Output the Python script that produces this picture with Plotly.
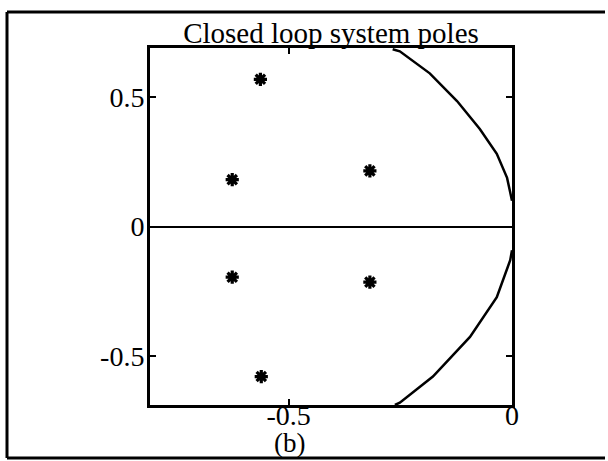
import plotly.graph_objects as go

# Closed-loop pole locations (real, imaginary)
pole_re = [-0.563, -0.626, -0.318, -0.626, -0.318, -0.561]
pole_im = [0.569, 0.181, 0.215, -0.196, -0.215, -0.580]

# Boundary curve, upper branch
upper_re = [-0.267, -0.251, -0.184, -0.123, -0.072, -0.034, -0.011, 0.0]
upper_im = [0.685, 0.677, 0.592, 0.485, 0.377, 0.281, 0.188, 0.100]

# Boundary curve, lower branch
lower_re = [0.0, -0.004, -0.034, -0.065, -0.094, -0.177, -0.251, -0.262]
lower_im = [-0.092, -0.130, -0.273, -0.350, -0.427, -0.580, -0.681, -0.690]

x_ticks = [-0.5, 0]
x_labels = ["-0.5", "0"]
y_ticks = [-0.5, 0, 0.5]
y_labels = ["-0.5", "0", "0.5"]

W, H = 608, 461
L, R, T, B = 150, 96, 48, 56
FONT = "Liberation Serif"


def px_x(p):
    return (p - L) / (W - L - R)


def px_y(p):
    return 1 - (p - T) / (H - T - B)


fig = go.Figure()
fig.add_trace(go.Scatter(x=upper_re, y=upper_im, mode="lines",
                         line=dict(color="black", width=2.5), showlegend=False))
fig.add_trace(go.Scatter(x=lower_re, y=lower_im, mode="lines",
                         line=dict(color="black", width=2.5), showlegend=False))
fig.add_trace(go.Scatter(x=pole_re, y=pole_im, mode="markers",
                         marker=dict(symbol="asterisk-open", size=11, color="black",
                                     line=dict(color="black", width=3.2)),
                         showlegend=False))

axis_common = dict(showline=True, linewidth=3, linecolor="black", mirror="ticks",
                   ticks="inside", ticklen=6, tickwidth=2, tickcolor="black",
                   showgrid=False, tickfont=dict(family=FONT, size=28, color="black"))

fig.update_xaxes(range=[-0.81, 0], tickvals=x_ticks, ticktext=x_labels,
                 zeroline=False, ticklabelstandoff=-17, **axis_common)
fig.update_yaxes(range=[-0.69, 0.69], tickvals=y_ticks, ticktext=y_labels,
                 zeroline=True, zerolinewidth=2, zerolinecolor="black",
                 ticklabelstandoff=-3, **axis_common)

# Outer frame around the figure
frame = dict(type="line", xref="paper", yref="paper",
             line=dict(color="black", width=3))
fig.add_shape(x0=px_x(7), x1=px_x(7), y0=px_y(12), y1=px_y(458), **frame)
fig.add_shape(x0=px_x(7), x1=px_x(605), y0=px_y(12), y1=px_y(12), **frame)
fig.add_shape(x0=px_x(7), x1=px_x(605), y0=px_y(458), y1=px_y(458), **frame)

fig.add_annotation(text="(b)", xref="paper", yref="paper", x=px_x(289), y=px_y(443),
                   showarrow=False, xanchor="center", yanchor="middle",
                   font=dict(family=FONT, size=27, color="black"))

fig.update_layout(
    width=W, height=H,
    margin=dict(l=L, r=R, t=T, b=B),
    paper_bgcolor="white", plot_bgcolor="white",
    title=dict(text="Closed loop system poles", x=px_x(331) * (W - L - R) / W + L / W,
               xanchor="center", y=1 - 33 / H, yanchor="middle",
               font=dict(family=FONT, size=29, color="black")),
)

fig.write_html("out.html")
